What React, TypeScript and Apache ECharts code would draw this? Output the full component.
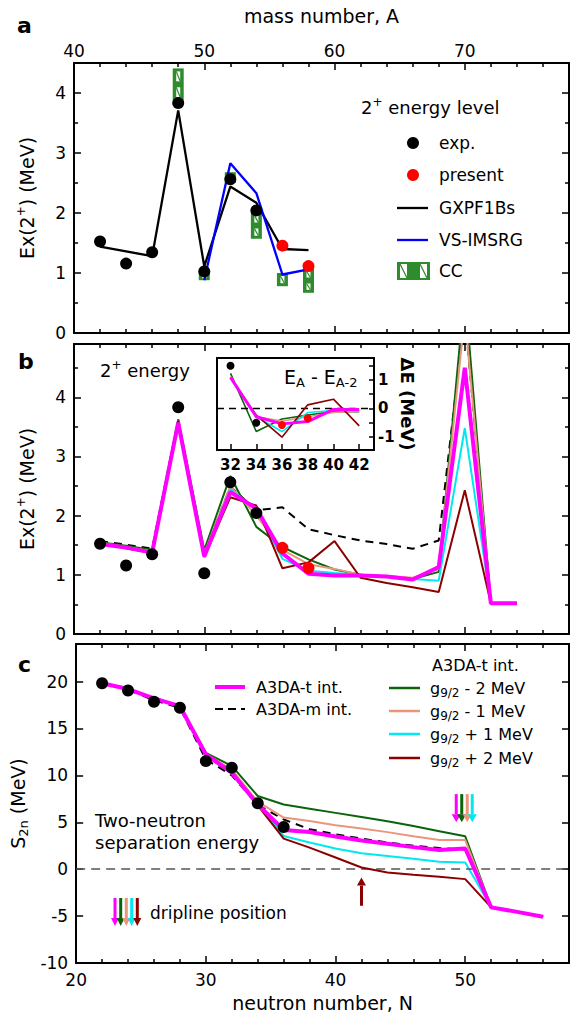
import React, { useEffect, useRef } from 'react';
import * as echarts from 'echarts';

const FONT = 'DejaVu Sans';
const C_MAG = '#ff00ff';
const C_GREEN = '#0b640b';
const C_SALMON = '#e9967a';
const C_CYAN = '#00e8f0';
const C_DRED = '#8b0000';
const C_BLUE = '#0000ff';
const C_CC = '#2e8b2e';
const C_RED = '#ff0000';

// ---------------- tick values / labels ----------------
const massTicksMinor = [42, 44, 46, 48, 52, 54, 56, 58, 62, 64, 66, 68, 72, 74, 76];
const massTicksMajor = [50, 60, 70];
const massLabels = [40, 50, 60, 70];
const nTicksMinor = [22, 24, 26, 28, 32, 34, 36, 38, 42, 44, 46, 48, 52, 54, 56];
const nTicksMajor = [30, 40, 50];
const nLabels = [20, 30, 40, 50];
const e2TicksMinor = [0.5, 1.5, 2.5, 3.5, 4.5];
const e2TicksMajor = [1, 2, 3, 4];
const e2Labels = [0, 1, 2, 3, 4];
const s2nTicks = [-5, 0, 5, 10, 15, 20];
const s2nLabels = [-10, -5, 0, 5, 10, 15, 20];
const insetNTicks = [32, 34, 36, 38, 40, 42];
const insetDETicks = [-1, -0.5, 0, 0.5, 1, 1.5];
const insetDELabels = [-1, 0, 1];

// ---------------- panel a : 2+ energies vs mass number ----------------
const massA = [42, 44, 46, 48, 50, 52, 54, 56, 58];
const expMassA = [42, 44, 46, 48, 50, 52, 54];
const expE2 = [1.525, 1.157, 1.346, 3.832, 1.027, 2.563, 2.043];
const presentMassA = [56, 58];
const presentE2 = [1.456, 1.115];
const gxpf1bsE2 = [1.44, 1.36, 1.28, 3.71, 1.11, 2.44, 2.17, 1.4, 1.38];
const vsMassA = [50, 52, 54, 56, 58];
const vsImsrgE2 = [0.88, 2.83, 2.33, 0.975, 1.06];
const ccMassA = [48, 50, 52, 54, 56, 58];
const ccLowE2 = [3.88, 0.88, 2.5, 1.57, 0.78, 0.67];
const ccHighE2 = [4.41, 1.0, 2.68, 2.01, 1.0, 1.08];

// ---------------- panel b : 2+ energies vs neutron number ----------------
const neutronB = [22, 24, 26, 28, 30, 32, 34, 36, 38, 40, 42, 44, 46, 48, 50, 52, 54];
const expNeutron = [22, 24, 26, 28, 30, 32, 34];
const presentNeutron = [36, 38];
const a3daT_E2 = [1.52, 1.46, 1.375, 3.57, 1.31, 2.4, 2.12, 1.36, 1.02, 0.99, 0.99, 0.97, 0.92, 1.13, 4.5, 0.52, 0.52];
const a3daM_E2 = [1.57, 1.51, 1.44, 3.62, 1.36, 2.49, 2.09, 2.14, 1.77, 1.67, 1.58, 1.52, 1.44, 1.58, 5.4, 0.52, 0.52];
const gMinus2_E2 = [1.55, 1.49, 1.42, 3.62, 1.42, 2.67, 1.81, 1.47, 1.26, 1.09, 1.0, 0.97, 0.93, 1.05, 5.8, 0.52, 0.52];
const gMinus1_E2 = [1.54, 1.47, 1.4, 3.6, 1.36, 2.5, 2.0, 1.42, 1.18, 1.1, 1.0, 0.98, 0.95, 1.1, 5.4, 0.52, 0.52];
const gPlus1_E2 = [1.53, 1.46, 1.38, 3.58, 1.33, 2.45, 2.1, 1.27, 1.07, 1.03, 1.0, 0.97, 0.93, 0.9, 3.48, 0.52, 0.52];
const gPlus2_E2 = [1.53, 1.45, 1.37, 3.6, 1.3, 2.31, 2.17, 1.11, 1.21, 1.57, 0.95, 0.86, 0.79, 0.71, 2.43, 0.52, 0.52];

// ---------------- inset : E_A - E_A-2 ----------------
const insetN = [32, 34, 36, 38, 40, 42];
const insetExpN = [32, 34];
const insetExpDE = [1.5, -0.51];
const insetPresentN = [36, 38];
const insetPresentDE = [-0.59, -0.35];
const insetA3daT = [1.09, -0.3, -0.55, -0.47, -0.04, -0.04];
const insetMinus2 = [1.23, -0.82, -0.38, -0.24, -0.12, -0.12];
const insetMinus1 = [1.12, -0.3, -0.45, -0.3, -0.15, -0.1];
const insetPlus1 = [1.1, -0.3, -0.82, -0.15, -0.08, -0.08];
const insetPlus2 = [1.06, -0.24, -1.02, 0.12, 0.32, -0.62];

// ---------------- panel c : S2n ----------------
const neutronC = [22, 24, 26, 28, 30, 32, 34, 36, 38, 40, 42, 44, 46, 48, 50, 52, 54, 56];
const expS2nN = [22, 24, 26, 28, 30, 32, 34, 36];
const expS2n = [19.82, 19.04, 17.84, 17.2, 11.52, 10.82, 7.02, 4.5];
const a3daT_S2n = [19.82, 19.2, 18.2, 17.37, 12.23, 10.29, 6.9, 4.18, 3.97, 3.48, 3.05, 2.7, 2.35, 2.05, 2.2, -4.07, -4.55, -5.07];
const a3daM_S2n = [19.82, 19.15, 18.0, 17.2, 11.7, 10.0, 6.85, 5.3, 4.26, 3.72, 3.26, 2.85, 2.5, 2.25, 2.1, -4.07, -4.55, -5.07];
const gMinus2_S2n = [19.82, 19.2, 18.2, 17.37, 12.4, 11.0, 7.8, 6.9, 6.45, 6.0, 5.55, 5.1, 4.6, 4.05, 3.5, -4.07, -4.55, -5.07];
const gMinus1_S2n = [19.82, 19.2, 18.2, 17.37, 12.3, 10.6, 7.2, 5.5, 5.14, 4.68, 4.33, 3.95, 3.5, 3.1, 3.1, -4.07, -4.55, -5.07];
const gPlus1_S2n = [19.82, 19.2, 18.2, 17.37, 12.2, 10.3, 6.9, 3.54, 2.84, 2.2, 1.7, 1.4, 1.1, 0.8, 0.7, -4.07, -4.55, -5.07];
const gPlus2_S2n = [19.82, 19.2, 18.2, 17.37, 12.1, 10.2, 6.8, 3.26, 2.3, 1.24, 0.18, -0.35, -0.6, -0.82, -1.06, -4.07, -4.55, -5.07];
const driplineN = [50, 50, 50, 50, 42];

// ---------------- styles ----------------
const DRIP_COLORS = [C_MAG, C_GREEN, C_SALMON, C_CYAN, C_DRED];
const DRIP_OFFSETS = [-9, -3.5, 2, 7, 0];
const ARROW_DOWN = [8.0, 5.0];
const ARROW_UP = [-3.9, -0.9];

const pts = (xs: number[], ys: number[]) => xs.map((x, i) => [x, ys[i]]);

function mkAxis(o: any) {
  return {
    type: 'value',
    gridIndex: o.grid,
    position: o.pos,
    min: o.min,
    max: o.max,
    axisLine: { show: true, onZero: false, lineStyle: { color: '#000', width: 2 } },
    axisTick: o.ticks
      ? { show: true, inside: true, length: o.tickLen ?? 5, customValues: o.ticks, lineStyle: { color: '#000', width: 1.5 } }
      : { show: false },
    axisLabel: o.labels
      ? {
          show: true,
          customValues: o.labels,
          margin: o.labelMargin ?? 8,
          fontFamily: FONT,
          fontSize: o.labelSize ?? 17,
          fontWeight: o.labelWeight ?? 'normal',
          color: '#000',
        }
      : { show: false },
    splitLine: { show: false },
    name: o.name,
    nameLocation: 'middle',
    nameGap: o.nameGap,
    nameRotate: o.nameRotate,
    nameTextStyle: o.nameStyle,
    z: 3,
  };
}

const supRich = {
  n: { fontFamily: FONT, fontSize: 19, color: '#000', lineHeight: 24 },
  sup: { fontFamily: FONT, fontSize: 12, color: '#000', lineHeight: 12, verticalAlign: 'top' },
  sub: { fontFamily: FONT, fontSize: 13, color: '#000', lineHeight: 13, verticalAlign: 'bottom' },
};

function buildOption() {
  const xAxes: any[] = [];
  const yAxes: any[] = [];

  // grid 0 : panel a
  xAxes.push(mkAxis({ grid: 0, pos: 'bottom', min: 40, max: 78, ticks: massTicksMinor, tickLen: 4 })); // 0
  xAxes.push(mkAxis({ grid: 0, pos: 'bottom', min: 40, max: 78, ticks: massTicksMajor, tickLen: 7 })); // 1
  xAxes.push(mkAxis({ grid: 0, pos: 'top', min: 40, max: 78, ticks: massTicksMinor, tickLen: 4 })); // 2
  xAxes.push(
    mkAxis({
      grid: 0, pos: 'top', min: 40, max: 78, ticks: massTicksMajor, tickLen: 7, labels: massLabels, labelMargin: 4,
      name: 'mass number, A', nameGap: 38, nameStyle: { fontFamily: FONT, fontSize: 19, color: '#000' },
    })
  ); // 3
  yAxes.push(mkAxis({ grid: 0, pos: 'left', min: 0, max: 4.5, ticks: e2TicksMinor, tickLen: 4 })); // 0
  yAxes.push(
    mkAxis({
      grid: 0, pos: 'left', min: 0, max: 4.5, ticks: e2TicksMajor, tickLen: 7, labels: e2Labels,
      name: '{n|Ex(2}{sup|+}{n|) (MeV)}', nameGap: 35, nameRotate: 90, nameStyle: { rich: supRich },
    })
  ); // 1
  yAxes.push(mkAxis({ grid: 0, pos: 'right', min: 0, max: 4.5, ticks: e2TicksMinor, tickLen: 4 })); // 2
  yAxes.push(mkAxis({ grid: 0, pos: 'right', min: 0, max: 4.5, ticks: e2TicksMajor, tickLen: 7 })); // 3

  // grid 1 : panel b
  xAxes.push(mkAxis({ grid: 1, pos: 'bottom', min: 20, max: 58, ticks: nTicksMinor, tickLen: 4 })); // 4
  xAxes.push(mkAxis({ grid: 1, pos: 'bottom', min: 20, max: 58, ticks: nTicksMajor, tickLen: 7 })); // 5
  xAxes.push(mkAxis({ grid: 1, pos: 'top', min: 20, max: 58, ticks: nTicksMinor, tickLen: 4 })); // 6
  xAxes.push(mkAxis({ grid: 1, pos: 'top', min: 20, max: 58, ticks: nTicksMajor, tickLen: 7 })); // 7
  yAxes.push(mkAxis({ grid: 1, pos: 'left', min: 0, max: 4.9, ticks: e2TicksMinor, tickLen: 4 })); // 4
  yAxes.push(
    mkAxis({
      grid: 1, pos: 'left', min: 0, max: 4.9, ticks: e2TicksMajor, tickLen: 7, labels: e2Labels,
      name: '{n|Ex(2}{sup|+}{n|) (MeV)}', nameGap: 35, nameRotate: 90, nameStyle: { rich: supRich },
    })
  ); // 5
  yAxes.push(mkAxis({ grid: 1, pos: 'right', min: 0, max: 4.9, ticks: e2TicksMinor, tickLen: 4 })); // 6
  yAxes.push(mkAxis({ grid: 1, pos: 'right', min: 0, max: 4.9, ticks: e2TicksMajor, tickLen: 7 })); // 7

  // grid 2 : inset
  xAxes.push(
    mkAxis({ grid: 2, pos: 'bottom', min: 30.95, max: 43.15, ticks: insetNTicks, tickLen: 6, labels: insetNTicks, labelMargin: 7, labelSize: 15, labelWeight: 'bold' })
  ); // 8
  xAxes.push(mkAxis({ grid: 2, pos: 'top', min: 30.95, max: 43.15 })); // 9
  yAxes.push(mkAxis({ grid: 2, pos: 'left', min: -1.47, max: 1.77 })); // 8
  yAxes.push(
    mkAxis({
      grid: 2, pos: 'right', min: -1.47, max: 1.77, ticks: insetDETicks, tickLen: 5, labels: insetDELabels, labelMargin: 4, labelSize: 15, labelWeight: 'bold',
      name: 'ΔE (MeV)', nameGap: 22, nameRotate: -90, nameStyle: { fontFamily: FONT, fontSize: 18, fontWeight: 'bold', color: '#000' },
    })
  ); // 9

  // grid 3 : panel c
  xAxes.push(mkAxis({ grid: 3, pos: 'bottom', min: 20, max: 58, ticks: nTicksMinor, tickLen: 4 })); // 10
  xAxes.push(
    mkAxis({
      grid: 3, pos: 'bottom', min: 20, max: 58, ticks: nTicksMajor, tickLen: 7, labels: nLabels, labelMargin: 8,
      name: 'neutron number, N', nameGap: 30, nameStyle: { fontFamily: FONT, fontSize: 19, color: '#000' },
    })
  ); // 11
  xAxes.push(mkAxis({ grid: 3, pos: 'top', min: 20, max: 58, ticks: nTicksMinor, tickLen: 4 })); // 12
  xAxes.push(mkAxis({ grid: 3, pos: 'top', min: 20, max: 58, ticks: nTicksMajor, tickLen: 7 })); // 13
  yAxes.push(
    mkAxis({
      grid: 3, pos: 'left', min: -10, max: 24, ticks: s2nTicks, tickLen: 7, labels: s2nLabels,
      name: '{n|S}{sub|2n}{n| (MeV)}', nameGap: 36, nameRotate: 90, nameStyle: { rich: supRich },
    })
  ); // 10
  yAxes.push(mkAxis({ grid: 3, pos: 'right', min: -10, max: 24, ticks: s2nTicks, tickLen: 7 })); // 11

  const line = (data: number[][], xi: number, yi: number, color: string, width: number, z: number, dashed = false) => ({
    type: 'line',
    xAxisIndex: xi,
    yAxisIndex: yi,
    data,
    showSymbol: false,
    symbol: 'none',
    lineStyle: { color, width, type: dashed ? [8, 6] : 'solid' },
    z,
    silent: true,
  });
  const scatter = (data: number[][], xi: number, yi: number, color: string, size: number, z = 10) => ({
    type: 'scatter',
    xAxisIndex: xi,
    yAxisIndex: yi,
    data,
    symbol: 'circle',
    symbolSize: size,
    itemStyle: { color, opacity: 1 },
    z,
    silent: true,
  });

  const series: any[] = [];

  // ---- panel a
  series.push({
    type: 'custom',
    xAxisIndex: 0,
    yAxisIndex: 0,
    z: 2,
    silent: true,
    data: ccMassA.map((m, i) => [m, ccLowE2[i], ccHighE2[i]]),
    encode: { x: 0, y: [1, 2] },
    renderItem: (params: any, api: any) => {
      const x = api.value(0);
      const lo = api.value(1);
      const hi = api.value(2);
      const top = api.coord([x, hi]);
      const bot = api.coord([x, lo]);
      const w = 11;
      const h = bot[1] - top[1];
      const children: any[] = [
        { type: 'rect', shape: { x: top[0] - w / 2, y: top[1], width: w, height: h }, style: { fill: C_CC } },
      ];
      const cells = h > 22 ? 2 : 1;
      const segH = h / cells;
      const pad = Math.min(3, segH * 0.25);
      for (let k = 0; k < cells; k++) {
        const cy0 = top[1] + k * segH + pad;
        const ch = Math.max(1.5, segH - 2 * pad);
        const cx0 = top[0] - 2;
        children.push({ type: 'rect', shape: { x: cx0, y: cy0, width: 4, height: ch }, style: { fill: '#fff' } });
        if (ch > 5)
          children.push({ type: 'line', shape: { x1: cx0, y1: cy0, x2: cx0 + 4, y2: cy0 + ch }, style: { stroke: C_CC, lineWidth: 1.2 } });
      }
      return { type: 'group', children };
    },
  });
  series.push(line(pts(massA, gxpf1bsE2), 0, 0, '#000', 2.3, 4));
  series.push(line(pts(vsMassA, vsImsrgE2), 0, 0, C_BLUE, 2.3, 5));
  series.push(scatter(pts(expMassA, expE2), 0, 0, '#000', 12));
  series.push(scatter(pts(presentMassA, presentE2), 0, 0, C_RED, 12));

  // ---- panel b
  series.push(line(pts(neutronB, a3daM_E2), 4, 4, '#000', 2, 3, true));
  series.push(line(pts(neutronB, gMinus2_E2), 4, 4, C_GREEN, 2, 4));
  series.push(line(pts(neutronB, gMinus1_E2), 4, 4, C_SALMON, 2, 4));
  series.push(line(pts(neutronB, gPlus1_E2), 4, 4, C_CYAN, 2, 4));
  series.push(line(pts(neutronB, gPlus2_E2), 4, 4, C_DRED, 2, 5));
  series.push(line(pts(neutronB, a3daT_E2), 4, 4, C_MAG, 4, 6));
  series.push(scatter(pts(expNeutron, expE2), 4, 4, '#000', 12));
  series.push(scatter(pts(presentNeutron, presentE2), 4, 4, C_RED, 12));

  // ---- inset
  series.push({
    ...line(pts(insetN, insetMinus2), 8, 8, C_GREEN, 1.6, 4),
    markLine: {
      silent: true,
      symbol: 'none',
      label: { show: false },
      lineStyle: { color: '#000', type: [7, 5], width: 1.3 },
      data: [{ yAxis: 0 }],
    },
  });
  series.push(line(pts(insetN, insetMinus1), 8, 8, C_SALMON, 1.6, 4));
  series.push(line(pts(insetN, insetPlus1), 8, 8, C_CYAN, 1.6, 4));
  series.push(line(pts(insetN, insetPlus2), 8, 8, C_DRED, 1.6, 5));
  series.push(line(pts(insetN, insetA3daT), 8, 8, C_MAG, 3, 6));
  series.push(scatter(pts(insetExpN, insetExpDE), 8, 8, '#000', 8));
  series.push(scatter(pts(insetPresentN, insetPresentDE), 8, 8, C_RED, 8));

  // ---- panel c
  series.push({
    ...line(pts(neutronC, a3daM_S2n), 10, 10, '#000', 2, 3, true),
    markLine: {
      silent: true,
      symbol: 'none',
      label: { show: false },
      lineStyle: { color: '#555', type: [9, 6], width: 1.5 },
      data: [{ yAxis: 0 }],
    },
  });
  series.push(line(pts(neutronC, gMinus2_S2n), 10, 10, C_GREEN, 2, 4));
  series.push(line(pts(neutronC, gMinus1_S2n), 10, 10, C_SALMON, 2, 4));
  series.push(line(pts(neutronC, gPlus1_S2n), 10, 10, C_CYAN, 2, 4));
  series.push(line(pts(neutronC, gPlus2_S2n), 10, 10, C_DRED, 2, 5));
  series.push(line(pts(neutronC, a3daT_S2n), 10, 10, C_MAG, 4, 6));
  series.push(scatter(pts(expS2nN, expS2n), 10, 10, '#000', 12));
  series.push({
    type: 'custom',
    xAxisIndex: 10,
    yAxisIndex: 10,
    z: 8,
    silent: true,
    data: driplineN.map((n, i) => (i < 4 ? [n, ARROW_DOWN[0], ARROW_DOWN[1]] : [n, ARROW_UP[0], ARROW_UP[1]])),
    encode: { x: 0, y: [1, 2] },
    renderItem: (params: any, api: any) => {
      const n = api.value(0);
      const p0 = api.coord([n, api.value(1)]);
      const p1 = api.coord([n, api.value(2)]);
      const x = p0[0] + DRIP_OFFSETS[params.dataIndex];
      const color = DRIP_COLORS[params.dataIndex];
      const dir = p1[1] > p0[1] ? 1 : -1;
      const hl = 8;
      return {
        type: 'group',
        children: [
          { type: 'line', shape: { x1: x, y1: p0[1], x2: x, y2: p1[1] - dir * hl }, style: { stroke: color, lineWidth: 3 } },
          {
            type: 'polygon',
            shape: { points: [[x - 4.5, p1[1] - dir * hl], [x + 4.5, p1[1] - dir * hl], [x, p1[1]]] },
            style: { fill: color },
          },
        ],
      };
    },
  });

  // ---------------- graphic annotations / legends ----------------
  const g: any[] = [];
  const txt = (x: number, y: number, text: string, size: number, extra: any = {}) => ({
    type: 'text',
    x,
    y,
    z: 20,
    silent: true,
    style: { text, fontFamily: FONT, fontSize: size, fill: '#000', align: 'left', verticalAlign: 'middle', ...extra },
  });
  const hline = (x1: number, x2: number, y: number, color: string, width: number, dash?: number[]) => ({
    type: 'line',
    z: 20,
    silent: true,
    shape: { x1, y1: y, x2, y2: y },
    style: { stroke: color, lineWidth: width, lineDash: dash },
  });
  const richStyle = (size: number, subSize: number) => ({
    n: { fontFamily: FONT, fontSize: size, fill: '#000', lineHeight: size + 5 },
    sup: { fontFamily: FONT, fontSize: subSize, fill: '#000', lineHeight: subSize, verticalAlign: 'top' },
    sub: { fontFamily: FONT, fontSize: subSize, fill: '#000', lineHeight: subSize, verticalAlign: 'bottom' },
  });

  // panel letters
  g.push(txt(17, 25, 'a', 22, { fontWeight: 'bold' }));
  g.push(txt(18, 361, 'b', 22, { fontWeight: 'bold' }));
  g.push(txt(18, 664, 'c', 22, { fontWeight: 'bold' }));

  // panel a legend
  g.push(txt(361, 107, '{n|2}{sup|+}{n| energy level}', 18, { rich: richStyle(18, 12) }));
  g.push({ type: 'circle', z: 20, silent: true, shape: { cx: 413, cy: 143, r: 6 }, style: { fill: '#000' } });
  g.push(txt(439, 143, 'exp.', 17));
  g.push({ type: 'circle', z: 20, silent: true, shape: { cx: 413, cy: 175, r: 6 }, style: { fill: C_RED } });
  g.push(txt(439, 175, 'present', 17));
  g.push(hline(397, 428, 208, '#000', 2.3));
  g.push(txt(439, 208, 'GXPF1Bs', 17));
  g.push(hline(397, 428, 240, C_BLUE, 2.3));
  g.push(txt(439, 240, 'VS-IMSRG', 17));
  g.push({ type: 'rect', z: 20, silent: true, shape: { x: 397, y: 262, width: 33, height: 18 }, style: { fill: C_CC } });
  [400, 420].forEach((cx) => {
    g.push({ type: 'rect', z: 21, silent: true, shape: { x: cx, y: 264, width: 7, height: 14 }, style: { fill: '#fff' } });
    g.push({ type: 'line', z: 22, silent: true, shape: { x1: cx, y1: 264, x2: cx + 7, y2: 278 }, style: { stroke: C_CC, lineWidth: 1.3 } });
  });
  g.push(txt(439, 271, 'CC', 17));

  // panel b annotation
  g.push(txt(100, 370, '{n|2}{sup|+}{n| energy}', 18, { rich: richStyle(18, 12) }));
  g.push(txt(284, 377, '{n|E}{sub|A}{n| - E}{sub|A-2}', 19, { rich: richStyle(19, 13) }));

  // panel c legends
  g.push(hline(215, 245, 687, C_MAG, 4));
  g.push(txt(256, 687, 'A3DA-t int.', 16));
  g.push(hline(215, 245, 709, '#000', 2, [8, 5]));
  g.push(txt(256, 709, 'A3DA-m int.', 16));
  g.push(txt(432, 665, 'A3DA-t int.', 16));
  const gLab = ['- 2 MeV', '- 1 MeV', '+ 1 MeV', '+ 2 MeV'];
  const gCol = [C_GREEN, C_SALMON, C_CYAN, C_DRED];
  [688, 711, 734, 758].forEach((y, i) => {
    g.push(hline(389, 420, y, gCol[i], 2.5));
    g.push(txt(430, y, '{n|g}{sub|9/2}{n| ' + gLab[i] + '}', 16, { rich: richStyle(16, 12) }));
  });
  g.push(txt(95, 820, 'Two-neutron', 18));
  g.push(txt(95, 842, 'separation energy', 18));
  [115, 120.7, 126.3, 131.7, 137.3].forEach((x, i) => {
    const c = DRIP_COLORS[i];
    g.push({ type: 'line', z: 20, silent: true, shape: { x1: x, y1: 898, x2: x, y2: 918 }, style: { stroke: c, lineWidth: 3 } });
    g.push({ type: 'polygon', z: 20, silent: true, shape: { points: [[x - 4, 918], [x + 4, 918], [x, 926]] }, style: { fill: c } });
  });
  g.push(txt(150, 913, 'dripline position', 17));

  return {
    animation: false,
    backgroundColor: '#fff',
    grid: [
      { left: 74, top: 63, width: 495, height: 270 },
      { left: 74, top: 344, width: 495, height: 290 },
      { left: 217, top: 358, width: 157, height: 92, show: true, backgroundColor: '#fff', borderWidth: 0, z: 1 },
      { left: 74, top: 644, width: 495, height: 319 },
    ],
    xAxis: xAxes,
    yAxis: yAxes,
    series,
    graphic: { elements: g },
  };
}

export default function App() {
  const ref = useRef<HTMLDivElement>(null);
  useEffect(() => {
    if (!ref.current) return;
    const chart = echarts.init(ref.current, undefined, { renderer: 'svg' });
    chart.setOption(buildOption() as any);
    return () => chart.dispose();
  }, []);
  return (
    <div
      ref={ref}
      style={{ position: 'absolute', left: 0, top: 0, width: 577, height: 1023, background: '#fff' }}
    />
  );
}
